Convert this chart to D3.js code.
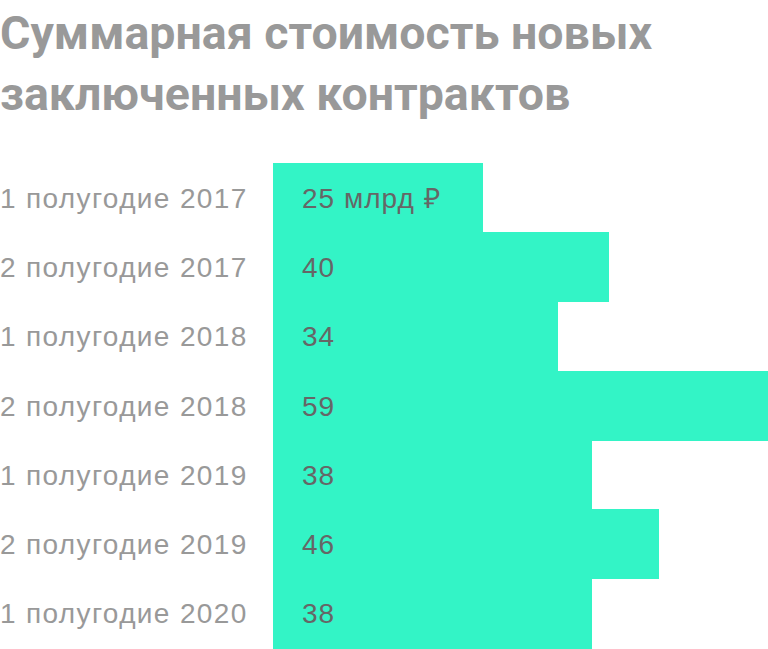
<!DOCTYPE html>
<html>
<head>
<meta charset="utf-8">
<script src="https://cdn.jsdelivr.net/npm/d3@7"></script>
<style>
  body { margin: 0; background: #fff; }
  text { font-family: "Liberation Sans", Arial, sans-serif; }
  .title { font-family: Roboto, "Noto Sans", sans-serif; }
</style>
</head>
<body>
<div id="graph"></div>
<script>
// data
var categories = ['1 полугодие 2017', '2 полугодие 2017', '1 полугодие 2018',
                  '2 полугодие 2018', '1 полугодие 2019', '2 полугодие 2019', '1 полугодие 2020'];
var values = [25, 40, 34, 59, 38, 46, 38];
var valueLabels = ['25 млрд ₽', '40', '34', '59', '38', '46', '38'];
var titleLines = ['Суммарная стоимость новых', 'заключенных контрактов'];

var width = 768;
var height = 649;

var svg = d3.select('#graph')
    .append('svg')
    .attr('width', width)
    .attr('height', height);

svg.selectAll('.title')
    .data(titleLines)
    .enter()
    .append('text')
    .attr('class', 'title')
    .attr('x', 0)
    .attr('y', function(d, i) { return 49 + i * 61; })
    .style('font-size', '46.5px')
    .style('font-weight', 700)
    .style('fill', '#999999')
    .text(function(d) { return d; });

var xScale = d3.scaleLinear().domain([0, 59]).range([273, 768]);
var yScale = d3.scaleBand().domain(categories).range([163, 648]).padding(0);

var rows = svg.append('g')
    .selectAll('.row')
    .data(categories)
    .enter()
    .append('g')
    .attr('class', 'row');

rows.append('rect')
    .attr('x', xScale(0))
    .attr('y', function(d) { return yScale(d); })
    .attr('width', function(d, i) { return xScale(values[i]) - xScale(0); })
    .attr('height', yScale.bandwidth() + 0.5)
    .attr('shape-rendering', 'crispEdges')
    .style('fill', '#33f4c6');

rows.append('text')
    .attr('x', 0)
    .attr('y', function(d) { return yScale(d) + yScale.bandwidth() / 2 + 10; })
    .style('font-size', '28px')
    .style('letter-spacing', '1.35px')
    .style('fill', '#999999')
    .text(function(d) { return d; });

rows.append('text')
    .attr('x', 302)
    .attr('y', function(d) { return yScale(d) + yScale.bandwidth() / 2 + 10; })
    .style('font-size', '28px')
    .style('letter-spacing', '1px')
    .style('fill', '#666666')
    .text(function(d, i) { return valueLabels[i]; });
</script>
</body>
</html>
